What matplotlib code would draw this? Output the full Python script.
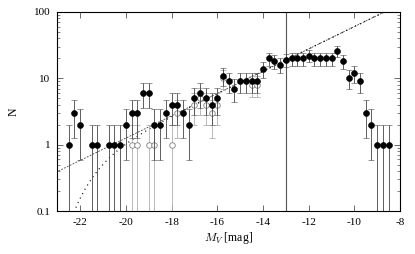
import numpy as np
import matplotlib
matplotlib.use("Agg")
import matplotlib.pyplot as plt
from matplotlib.ticker import FixedLocator, LogLocator, NullFormatter, FuncFormatter

plt.rcParams['font.family'] = ['Liberation Serif', 'DejaVu Serif']
plt.rcParams['mathtext.fontset'] = 'cm'
plt.rcParams['axes.unicode_minus'] = False

# magnitude bins (0.25 mag wide) and counts
mag_bins = np.arange(-22.5, -8.49, 0.25)
n_all = [1, 3, 2, 0, 1, 1, 0, 1, 1, 1, 2, 3, 3, 6, 6, 2, 2, 3, 4, 4,
         3, 2, 5, 6, 5, 4, 5, 11, 9, 7, 9, 9, 9, 9, 14, 20, 18, 16, 19, 20,
         20, 20, 22, 20, 20, 20, 20, 26, 18, 10, 12, 9, 3, 2, 1, 1, 1]

# subsample (open circles), only bins where they are visible
mag_sub = [-19.75, -19.5, -19.0, -18.75, -18.0, -17.75, -17.0, -16.75,
           -16.5, -16.25, -16.0, -15.75, -14.5, -14.25]
n_sub = [1, 1, 1, 1, 1, 3, 4, 5, 4, 3, 4, 10, 8, 8]

# model parameters: faint-end power law and Schechter function
alpha = -1.42
m_star = -21.7
m_unit = -20.59   # magnitude where the power law gives N = 1
m_limit = -13.0

fig = plt.figure(figsize=(4.15, 2.54), dpi=100)
ax = fig.add_axes([0.138, 0.169, 0.826, 0.784])

# open circles with light error bars
ns = np.array(n_sub, dtype=float)
ax.errorbar(mag_sub, ns, yerr=[np.minimum(np.sqrt(ns), ns - 1e-3), np.sqrt(ns)],
            fmt='o', ms=4.0, mfc='white', mec='#808080', mew=0.6,
            ecolor='#b0b0b0', elinewidth=0.6, capsize=2.3, capthick=0.6, zorder=2)

# filled circles
na = np.array(n_all, dtype=float)
mask = na > 0
m = mag_bins[mask]
n = na[mask]
ax.errorbar(m, n, yerr=[np.minimum(np.sqrt(n), n - 1e-3), np.sqrt(n)],
            fmt='o', ms=4.3, mfc='black', mec='black', mew=0.4,
            ecolor='#444444', elinewidth=0.6, capsize=2.3, capthick=0.6, zorder=3)

# model curves
mm = np.linspace(-23.2, -7.8, 400)
power = 10 ** (-0.4 * (alpha + 1) * (mm - m_unit))
schechter = power * np.exp(-10 ** (0.4 * (m_star - mm)))
ax.plot(mm, power, color='#444444', lw=0.6, ls=(0, (2.2, 1.6)), zorder=1)
ax.plot(mm, schechter, color='black', lw=0.9, ls=(0, (0.8, 3.2)), zorder=1)

ax.axvline(m_limit, color='#555555', lw=0.8, zorder=1)

ax.set_yscale('log')
ax.set_xlim(-23.0, -8.0)
ax.set_ylim(0.1, 100)

ax.xaxis.set_major_locator(FixedLocator(np.arange(-22, -7, 2)))
ax.xaxis.set_major_formatter(FuncFormatter(lambda v, p: '%d' % v))
ax.yaxis.set_major_locator(LogLocator(base=10))
ax.yaxis.set_minor_locator(LogLocator(base=10, subs=np.arange(2, 10)))
ax.yaxis.set_minor_formatter(NullFormatter())
ax.yaxis.set_major_formatter(FuncFormatter(lambda v, p: '%g' % v))

ax.tick_params(which='both', direction='in', top=True, right=True,
               labelsize=8, color='#555555', pad=5)
ax.tick_params(which='major', length=4, width=0.6)
ax.tick_params(which='minor', length=2.5, width=0.5)
for s in ax.spines.values():
    s.set_linewidth(0.8)

ax.set_xlabel(r'$M_V\;$[mag]', fontsize=8.5, labelpad=2)
ax.set_ylabel('N', fontsize=8.5, labelpad=10)

fig.savefig('out.png', dpi=100)
